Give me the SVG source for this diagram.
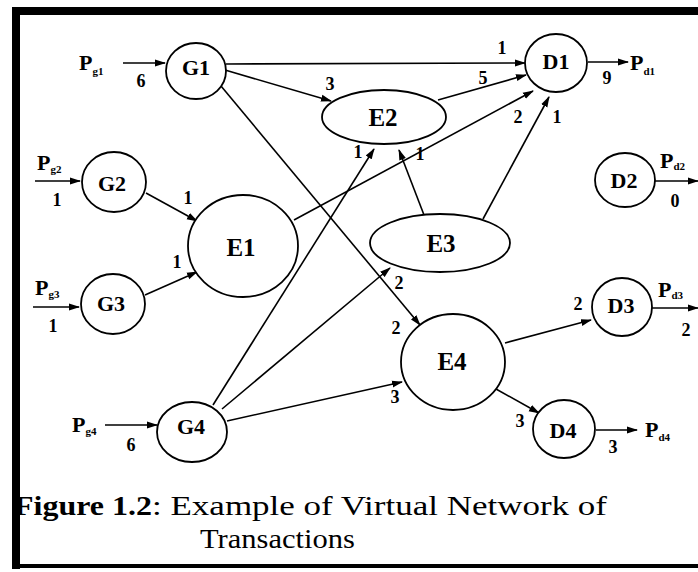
<svg xmlns="http://www.w3.org/2000/svg" width="698" height="572" viewBox="0 0 698 572">
<defs>
<marker id="ah" markerWidth="11" markerHeight="8" refX="10" refY="4" orient="auto" markerUnits="userSpaceOnUse">
<path d="M0,0.5 L11,4 L0,7.5 Z" fill="#000"/>
</marker>
<style>
.n{fill:#fff;stroke:#000;stroke-width:1.8}
.t{font-family:"Liberation Serif","Times New Roman",serif;font-weight:bold;fill:#000;text-anchor:middle}
.gl{font-size:22px}
.el{font-size:25px}
.lb{font-family:"Liberation Serif","Times New Roman",serif;font-weight:bold;font-size:18px;fill:#000;text-anchor:middle}
.p{font-family:"Liberation Serif","Times New Roman",serif;font-weight:bold;font-size:22px;fill:#000}
.s{font-size:11px}
.e{fill:none;stroke:#000;stroke-width:1.6;marker-end:url(#ah)}
.cap{font-family:"Liberation Serif","Times New Roman",serif;font-size:27px;fill:#000}
</style>
</defs>
<rect width="698" height="572" fill="#fff"/>
<g id="frame" fill="#000">
<rect x="12" y="7" width="686" height="8"/>
<rect x="12" y="7" width="8" height="562"/>
<rect x="12" y="564" width="686" height="4"/>
</g>
<g id="connectors">
<path class="e" d="M123,63 L165,63"/>
<path class="e" d="M226,64 L525,63"/>
<path class="e" d="M225,70 L331,101"/>
<path class="e" d="M221,86 L420,325"/>
<path class="e" d="M146,193 L197,221"/>
<path class="e" d="M145,295 L197,272"/>
<path class="e" d="M294,220 L533,91"/>
<path class="e" d="M438,100 L526,75"/>
<path class="e" d="M483,219 L549,97"/>
<path class="e" d="M424,215 L399,150"/>
<path class="e" d="M213,405 L374,149"/>
<path class="e" d="M222,409 L390,268"/>
<path class="e" d="M227,421 L402,382"/>
<path class="e" d="M505,343 L591,320"/>
<path class="e" d="M496,389 L539,413"/>
<path class="e" d="M588,62 L628,62"/>
<path class="e" d="M654,181 L698,181"/>
<path class="e" d="M652,308 L698,308"/>
<path class="e" d="M596,430 L637,430"/>
<path class="e" d="M35,181 L80,181"/>
<path class="e" d="M33,307 L79,307"/>
<path class="e" d="M105,425 L157,425"/>
</g>
<g id="G1"><ellipse class="n" cx="196" cy="71" rx="30" ry="28"/><text class="t gl" x="196" y="75">G1</text></g>
<g id="G2"><ellipse class="n" cx="114" cy="182" rx="32" ry="30"/><text class="t gl" x="112" y="191">G2</text></g>
<g id="G3"><ellipse class="n" cx="113" cy="304" rx="32" ry="30"/><text class="t gl" x="111" y="311">G3</text></g>
<g id="G4"><ellipse class="n" cx="192" cy="432" rx="35" ry="30"/><text class="t gl" x="191" y="434">G4</text></g>
<g id="E1"><ellipse class="n" cx="243" cy="246" rx="55" ry="51"/><text class="t el" x="241" y="256">E1</text></g>
<g id="E2"><ellipse class="n" cx="384" cy="117" rx="62" ry="27"/><text class="t el" x="383" y="126">E2</text></g>
<g id="E3"><ellipse class="n" cx="440" cy="243" rx="70" ry="29"/><text class="t el" x="441" y="252">E3</text></g>
<g id="E4"><ellipse class="n" cx="453" cy="362" rx="52" ry="48"/><text class="t el" x="452" y="370">E4</text></g>
<g id="D1"><ellipse class="n" cx="556" cy="63" rx="31" ry="29"/><text class="t gl" x="556" y="69">D1</text></g>
<g id="D2"><ellipse class="n" cx="625" cy="180" rx="30" ry="27"/><text class="t gl" x="624" y="188">D2</text></g>
<g id="D3"><ellipse class="n" cx="622" cy="307" rx="30" ry="29"/><text class="t gl" x="621" y="313">D3</text></g>
<g id="D4"><ellipse class="n" cx="564" cy="429" rx="31" ry="29"/><text class="t gl" x="563" y="438">D4</text></g>
<g id="edge-labels">
<text class="lb" x="141" y="87">6</text>
<text class="lb" x="330" y="90">3</text>
<text class="lb" x="502" y="54">1</text>
<text class="lb" x="483" y="84">5</text>
<text class="lb" x="607" y="84">9</text>
<text class="lb" x="518" y="123">2</text>
<text class="lb" x="557" y="123">1</text>
<text class="lb" x="358" y="158">1</text>
<text class="lb" x="420" y="160">1</text>
<text class="lb" x="57" y="206">1</text>
<text class="lb" x="188" y="204">1</text>
<text class="lb" x="177" y="268">1</text>
<text class="lb" x="53" y="332">1</text>
<text class="lb" x="399" y="289">2</text>
<text class="lb" x="396" y="334">2</text>
<text class="lb" x="395" y="403">3</text>
<text class="lb" x="578" y="310">2</text>
<text class="lb" x="686" y="336">2</text>
<text class="lb" x="675" y="207">0</text>
<text class="lb" x="520" y="427">3</text>
<text class="lb" x="613" y="453">3</text>
<text class="lb" x="131" y="451">6</text>
</g>
<g id="terminals">
<text class="p" x="79" y="70">P<tspan class="s" dy="5">g1</tspan></text>
<text class="p" x="37" y="170">P<tspan class="s" dy="3">g2</tspan></text>
<text class="p" x="35" y="295">P<tspan class="s" dy="3">g3</tspan></text>
<text class="p" x="72" y="432">P<tspan class="s" dy="3">g4</tspan></text>
<text class="p" x="630" y="70">P<tspan class="s" dy="5">d1</tspan></text>
<text class="p" x="660" y="168">P<tspan class="s" dy="2">d2</tspan></text>
<text class="p" x="658" y="297">P<tspan class="s" dy="2">d3</tspan></text>
<text class="p" x="645" y="437">P<tspan class="s" dy="4">d4</tspan></text>
</g>
<g id="caption">
<text class="cap" x="14" y="515" font-weight="bold" textLength="138" lengthAdjust="spacingAndGlyphs">Figure 1.2</text>
<text class="cap" x="152" y="515" textLength="455" lengthAdjust="spacingAndGlyphs">: Example of Virtual Network of</text>
<text class="cap" x="200" y="548" textLength="155" lengthAdjust="spacingAndGlyphs">Transactions</text>
</g>
</svg>
